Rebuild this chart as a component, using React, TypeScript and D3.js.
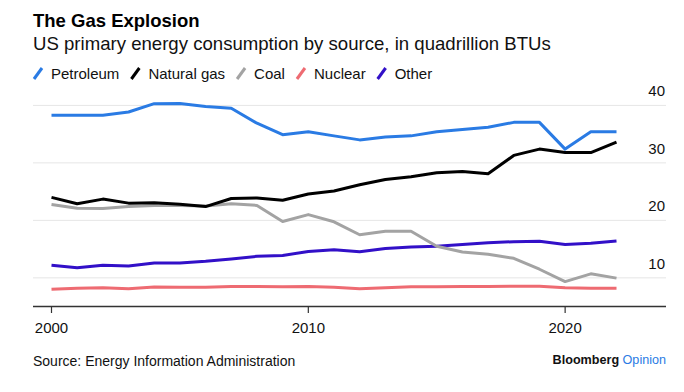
import React, { useEffect, useRef } from 'react';
import * as d3 from 'd3';

const years = d3.range(2000, 2023);
const petroleum = [38.3, 38.3, 38.3, 38.85, 40.3, 40.35, 39.8, 39.5, 36.9, 34.9, 35.4, 34.7, 34.0, 34.5, 34.7, 35.4, 35.8, 36.2, 37.05, 37.05, 32.4, 35.4, 35.4];
const naturalGas = [24.0, 22.9, 23.7, 23.0, 23.05, 22.8, 22.4, 23.8, 23.9, 23.5, 24.6, 25.1, 26.2, 27.1, 27.6, 28.3, 28.5, 28.1, 31.3, 32.4, 31.8, 31.8, 33.6];
const coal = [22.75, 22.1, 22.05, 22.4, 22.6, 22.6, 22.5, 22.9, 22.6, 19.8, 21.0, 19.75, 17.5, 18.1, 18.1, 15.5, 14.5, 14.1, 13.4, 11.5, 9.35, 10.7, 9.95];
const nuclear = [8.0, 8.2, 8.3, 8.1, 8.4, 8.35, 8.35, 8.5, 8.5, 8.45, 8.5, 8.35, 8.1, 8.3, 8.45, 8.45, 8.5, 8.5, 8.55, 8.55, 8.3, 8.2, 8.2];
const other = [12.2, 11.75, 12.2, 12.05, 12.6, 12.6, 12.9, 13.3, 13.75, 13.9, 14.6, 14.9, 14.55, 15.1, 15.35, 15.5, 15.8, 16.1, 16.3, 16.35, 15.8, 16.0, 16.4];

const seriesNames = ['Petroleum', 'Natural gas', 'Coal', 'Nuclear', 'Other'];
const seriesColors = ['#2a7be4', '#000000', '#a3a3a3', '#ee6b72', '#3210c8'];
const seriesValues = [petroleum, naturalGas, coal, nuclear, other];

const yTicks = [10, 20, 30, 40];
const xTicks = [2000, 2010, 2020];

const W = 684;
const H = 392;
const FONT = '"Liberation Sans", Arial, Helvetica, sans-serif';

export default function App() {
  const ref = useRef<SVGSVGElement>(null);

  useEffect(() => {
    const svg = d3.select(ref.current);
    svg.selectAll('*').remove();

    const left = 33;
    const right = 666;

    const x = d3.scaleLinear().domain([2000, 2022]).range([51.5, 616.5]);
    const y = d3.scaleLinear().domain([5, 40]).range([306.6, 105.4]);

    // titles
    svg.append('text').attr('x', left).attr('y', 27)
      .attr('font-size', 18.5).attr('font-weight', 'bold').attr('fill', '#000')
      .text('The Gas Explosion');
    svg.append('text').attr('x', left).attr('y', 50)
      .attr('font-size', 18.6).attr('fill', '#111')
      .text('US primary energy consumption by source, in quadrillion BTUs');

    // legend
    let lx = left;
    seriesNames.forEach((name, i) => {
      svg.append('line')
        .attr('x1', lx + 1).attr('y1', 79)
        .attr('x2', lx + 9).attr('y2', 68)
        .attr('stroke', seriesColors[i]).attr('stroke-width', 3);
      const t = svg.append('text').attr('x', lx + 18).attr('y', 79)
        .attr('font-size', 15).attr('fill', '#111').text(name);
      const w = (t.node() as SVGTextElement).getComputedTextLength();
      lx = lx + 18 + w + 11;
    });

    // gridlines + y labels
    svg.append('g').selectAll('line').data(yTicks).enter().append('line')
      .attr('x1', left).attr('x2', right)
      .attr('y1', d => y(d)).attr('y2', d => y(d))
      .attr('stroke', '#e6e6e6').attr('stroke-width', 1);
    svg.append('g').selectAll('text').data(yTicks).enter().append('text')
      .attr('x', 665).attr('y', d => y(d) - 9)
      .attr('text-anchor', 'end').attr('font-size', 15).attr('fill', '#111')
      .text(d => d);

    // x axis
    svg.append('line').attr('x1', left).attr('x2', right)
      .attr('y1', 306.6).attr('y2', 306.6)
      .attr('stroke', '#333').attr('stroke-width', 1.5);
    svg.append('g').selectAll('line').data(xTicks).enter().append('line')
      .attr('x1', d => x(d)).attr('x2', d => x(d))
      .attr('y1', 306.6).attr('y2', 313)
      .attr('stroke', '#333').attr('stroke-width', 1.2);
    svg.append('g').selectAll('text').data(xTicks).enter().append('text')
      .attr('x', d => x(d)).attr('y', 333)
      .attr('text-anchor', 'middle').attr('font-size', 15).attr('fill', '#111')
      .text(d => d);

    // lines, drawn back to front
    const line = d3.line<number>()
      .x((d, i) => x(years[i]))
      .y(d => y(d));
    [4, 3, 2, 1, 0].forEach(i => {
      svg.append('path')
        .datum(seriesValues[i])
        .attr('d', line)
        .attr('fill', 'none')
        .attr('stroke', seriesColors[i])
        .attr('stroke-width', 3)
        .attr('stroke-linejoin', 'round');
    });

    // footer
    svg.append('text').attr('x', left).attr('y', 366)
      .attr('font-size', 14).attr('fill', '#111')
      .text('Source: Energy Information Administration');
    const brand = svg.append('text').attr('x', 666).attr('y', 364)
      .attr('text-anchor', 'end').attr('font-size', 12.6);
    brand.append('tspan').attr('font-weight', 'bold').attr('fill', '#111').text('Bloomberg ');
    brand.append('tspan').attr('fill', '#2a7be4').text('Opinion');
  }, []);

  return (
    <svg ref={ref} width={W} height={H}
      style={{ position: 'absolute', left: 0, top: 0, background: '#fff', fontFamily: FONT }} />
  );
}
